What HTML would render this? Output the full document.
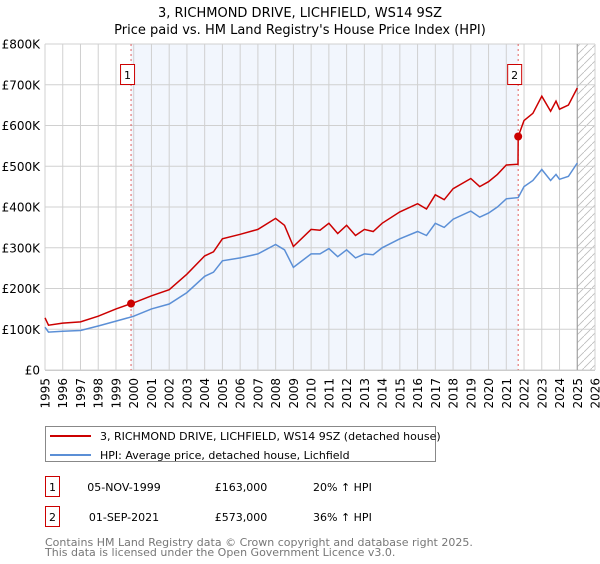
<!DOCTYPE html>
<html><head><meta charset="utf-8"><style>
body{margin:0;background:#fff;font-family:"DejaVu Sans","Liberation Sans",sans-serif;}
svg text{font-family:"DejaVu Sans","Liberation Sans",sans-serif;}
</style></head><body>
<svg id="chart" width="600" height="560" xmlns="http://www.w3.org/2000/svg">
<defs><pattern id="hatch" patternUnits="userSpaceOnUse" width="8" height="8"><path d="M0,8 L8,0" stroke="#bbb" stroke-width="0.8"/></pattern></defs>
<text x="300" y="17" text-anchor="middle" font-size="13">3, RICHMOND DRIVE, LICHFIELD, WS14 9SZ</text>
<text x="300" y="34" text-anchor="middle" font-size="13">Price paid vs. HM Land Registry's House Price Index (HPI)</text>
<g id="grid"></g>
<g id="marks"></g>
<g id="legend">
<rect x="45.5" y="426.5" width="390" height="35" fill="#fff" stroke="#888"/>
<line x1="50" y1="436" x2="91" y2="436" stroke="#cc0000" stroke-width="2"/>
<text x="100" y="440" font-size="11">3, RICHMOND DRIVE, LICHFIELD, WS14 9SZ (detached house)</text>
<line x1="50" y1="455" x2="91" y2="455" stroke="#5b8fd6" stroke-width="2"/>
<text x="100" y="459" font-size="11">HPI: Average price, detached house, Lichfield</text>
</g>
<g font-size="11">
<rect x="45.5" y="476.5" width="14" height="20" fill="#fff" stroke="#cc0000"/>
<text x="52.5" y="491" text-anchor="middle">1</text>
<text x="124" y="491" text-anchor="middle">05-NOV-1999</text>
<text x="241" y="491" text-anchor="middle">£163,000</text>
<text x="313" y="491">20% ↑ HPI</text>
</g>
<g font-size="11">
<rect x="45.5" y="506.5" width="14" height="20" fill="#fff" stroke="#cc0000"/>
<text x="52.5" y="521" text-anchor="middle">2</text>
<text x="124" y="521" text-anchor="middle">01-SEP-2021</text>
<text x="241" y="521" text-anchor="middle">£573,000</text>
<text x="313" y="521">36% ↑ HPI</text>
</g>
<text x="45" y="546" font-size="11" fill="#777">Contains HM Land Registry data © Crown copyright and database right 2025.</text>
<text x="45" y="556" font-size="11" fill="#777">This data is licensed under the Open Government Licence v3.0.</text>
</svg>
<script>
const hpiYears=[1995,1995.2,1996,1997,1998,1999,1999.85,2000,2001,2002,2003,2004,2004.5,2005,2006,2007,2008,2008.5,2009,2010,2010.5,2011,2011.5,2012,2012.5,2013,2013.5,2014,2015,2016,2016.5,2017,2017.5,2018,2019,2019.5,2020,2020.5,2021,2021.67,2022,2022.5,2023,2023.5,2023.8,2024,2024.5,2025];
const hpiValues=[105,93,95,97,108,120,130,132,150,162,190,230,240,268,275,285,308,295,252,285,285,298,278,295,275,285,283,300,322,340,330,360,350,370,390,375,385,400,420,423,450,465,492,465,480,468,475,508];
const redYears=[1995,1995.2,1996,1997,1998,1999,1999.85,2000,2001,2002,2003,2004,2004.5,2005,2006,2007,2008,2008.5,2009,2010,2010.5,2011,2011.5,2012,2012.5,2013,2013.5,2014,2015,2016,2016.5,2017,2017.5,2018,2019,2019.5,2020,2020.5,2021,2021.66,2021.67,2022,2022.5,2023,2023.5,2023.8,2024,2024.5,2025];
const redValues=[128,110,115,118,132,150,163,165,182,197,235,280,290,322,333,345,372,355,303,345,343,360,335,355,330,345,340,360,388,408,395,430,418,445,470,450,462,480,503,505,573,612,630,672,635,660,640,650,692];
const saleYears=[1999.85,2021.67];
const saleValues=[163,573];
const saleLabels=["1","2"];
const yTicks=[0,100,200,300,400,500,600,700,800];
const yTickLabels=["£0","£100K","£200K","£300K","£400K","£500K","£600K","£700K","£800K"];
const xTicks=[1995,1996,1997,1998,1999,2000,2001,2002,2003,2004,2005,2006,2007,2008,2009,2010,2011,2012,2013,2014,2015,2016,2017,2018,2019,2020,2021,2022,2023,2024,2025,2026];

const L=45,R=595,T=44,B=370,x0=1995,x1=2026,ymax=800;
const X=v=>L+(v-x0)/(x1-x0)*(R-L);
const Y=v=>B-v/ymax*(B-T);
const NS="http://www.w3.org/2000/svg";
function mk(tag,attrs,parent){const e=document.createElementNS(NS,tag);for(const k in attrs)e.setAttribute(k,attrs[k]);parent.appendChild(e);return e;}
const grid=document.getElementById('grid'),marks=document.getElementById('marks');
const shade=mk('rect',{x:X(saleYears[0]),y:T,width:X(saleYears[1])-X(saleYears[0]),height:B-T,fill:'#f2f6fd'},grid);


const hatch=mk('rect',{x:X(2025),y:T,width:R-X(2025),height:B-T,fill:'url(#hatch)'},grid);


xTicks.forEach(t=>{
 const l=mk('line',{x1:X(t),x2:X(t),y1:T,y2:B,stroke:'#d0d0d0','stroke-width':1},grid);
 
 
 const tx=mk('text',{transform:`translate(${X(t)+4.5},${B+8}) rotate(-90)`,'text-anchor':'end','font-size':12},grid);
 tx.textContent=t;
 
 
});
yTicks.forEach((t,i)=>{
 const l=mk('line',{x1:L,x2:R,y1:Y(t),y2:Y(t),stroke:'#d0d0d0','stroke-width':1},grid);
 
 
 const tx=mk('text',{x:L-5,y:Y(t)+4.5,'text-anchor':'end','font-size':12},grid);
 tx.textContent=yTickLabels[i];
 
 
});
const edge=mk('line',{x1:X(2025),x2:X(2025),y1:T,y2:B,stroke:'#999','stroke-width':1},grid);


saleYears.forEach((s,i)=>{
 const l=mk('line',{x1:X(s),x2:X(s),y1:T,y2:B,stroke:'#e06060','stroke-dasharray':'2,3','stroke-width':1},marks);
 
 
});
function pts(xs,ys){return xs.map((v,i)=>X(v).toFixed(1)+','+Y(ys[i]).toFixed(1)).join(' ');}
const hl=mk('polyline',{points:pts(hpiYears,hpiValues),fill:'none',stroke:'#5b8fd6','stroke-width':1.5},marks);


const rl=mk('polyline',{points:pts(redYears,redValues),fill:'none',stroke:'#cc0000','stroke-width':1.5},marks);


saleYears.forEach((s,i)=>{
 const c=mk('circle',{cx:X(s),cy:Y(saleValues[i]),r:4,fill:'#cc0000'},marks);
 
 
 const bx=mk('rect',{x:X(s)-10.5,y:64.5,width:14,height:20,fill:'#fff',stroke:'#cc0000'},marks);
 
 
 const t=mk('text',{x:X(s)-3.5,y:79,'text-anchor':'middle','font-size':11},marks);
 t.textContent=saleLabels[i];
 
 
});
const ax=mk('line',{x1:L,x2:R,y1:B+0.5,y2:B+0.5,stroke:'#ccc'},marks);


</script>
</body></html>
